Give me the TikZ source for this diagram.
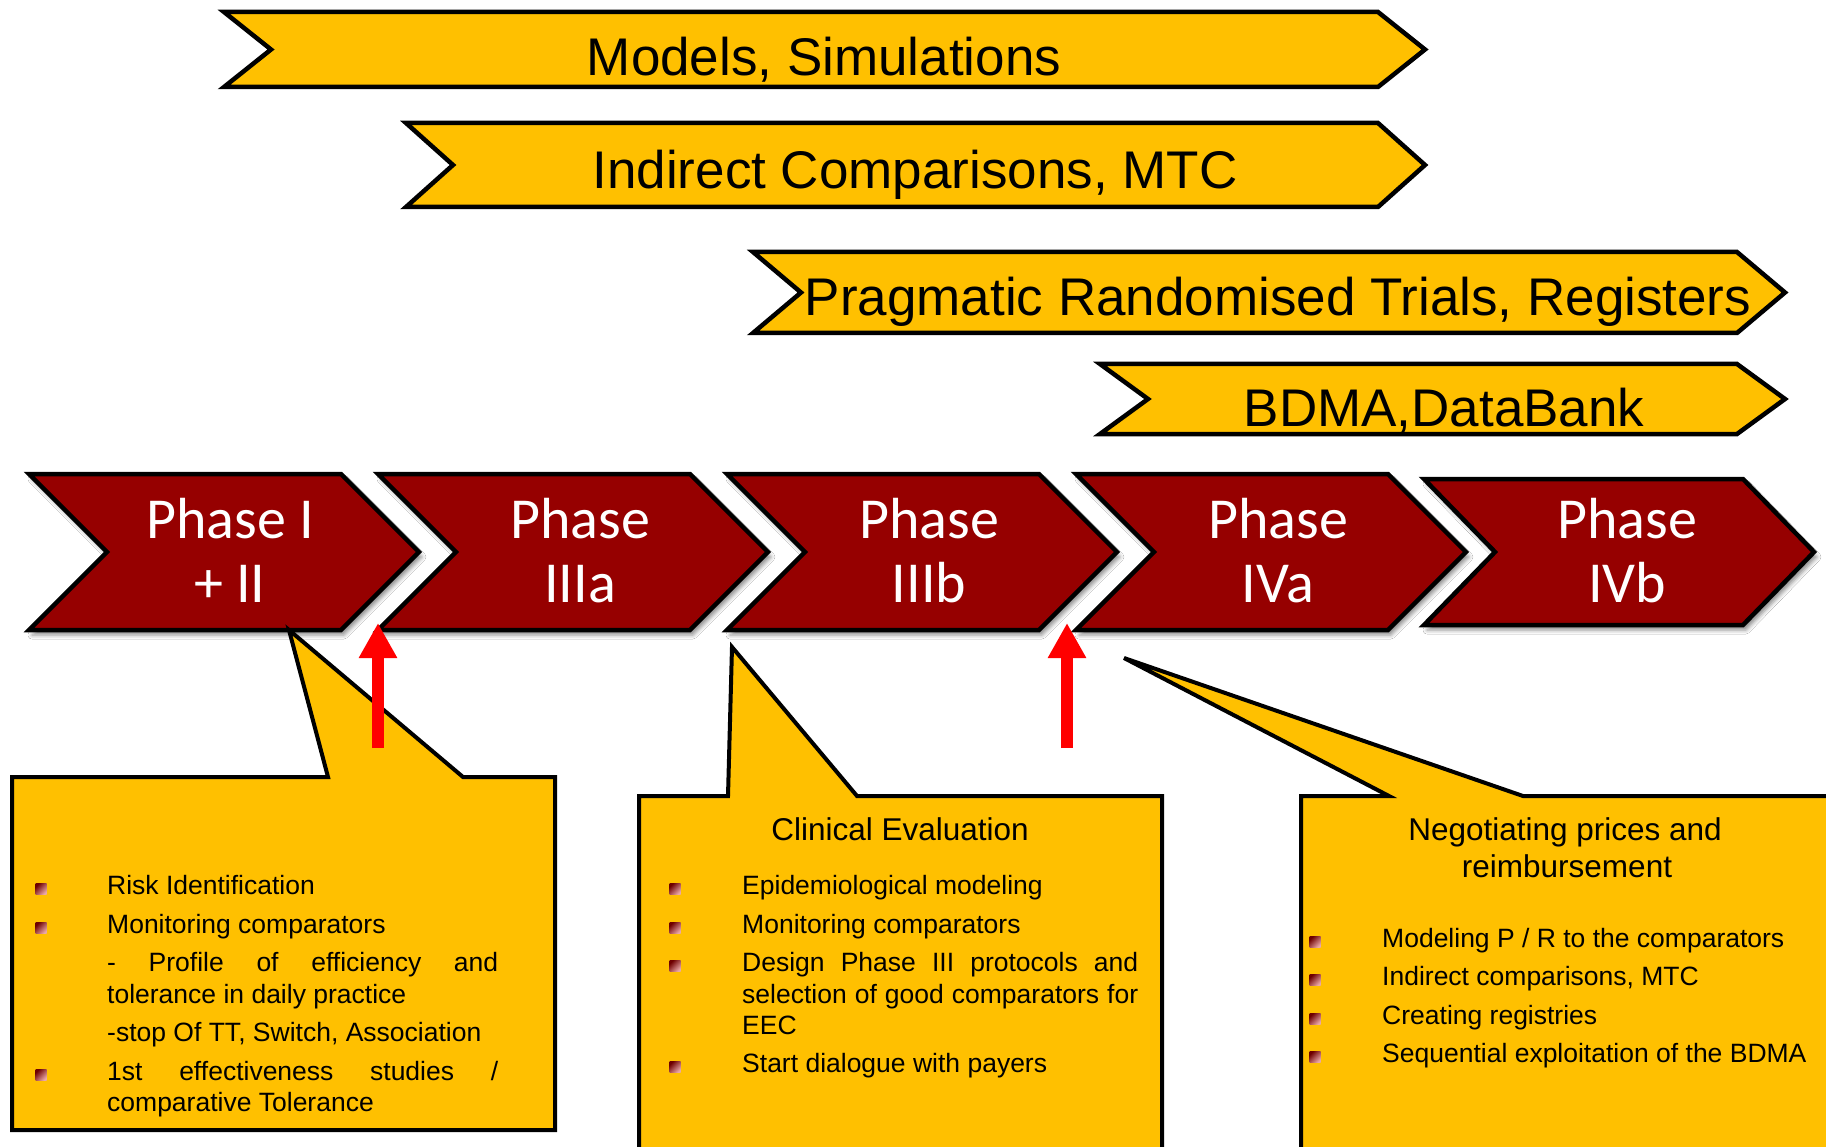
\documentclass[tikz,border=0pt]{standalone}
\usepackage{fontspec}
\setmainfont{Liberation Sans}
\newfontfamily\phasefont{Carlito}
\usetikzlibrary{arrows.meta,shadows.blur}

\definecolor{gold}{HTML}{FFC000}
\definecolor{phasered}{HTML}{960000}
\definecolor{markdark}{HTML}{6E0000}
\definecolor{markmid}{HTML}{A01212}
\definecolor{marklight}{HTML}{EAA8A8}

\tikzset{
  banner/.style={fill=gold, draw=black, line width=4.5pt, line join=miter},
  phasebox/.style={fill=phasered, draw=black, line width=4.5pt, line join=miter,
    blur shadow={shadow xshift=3pt, shadow yshift=-5pt, shadow blur radius=4pt, shadow opacity=45}},
  bannertext/.style={font=\fontsize{53}{60}\selectfont, anchor=base, inner sep=0pt},
  phasetext/.style={text=white, font=\phasefont\fontsize{58}{64}\selectfont, anchor=base, inner sep=0pt},
  callout/.style={fill=gold, draw=black, line width=4pt, line join=miter},
  itemtext/.style={font=\fontsize{26.5}{31}\selectfont, anchor=base west, inner sep=0pt},
  titletext/.style={font=\fontsize{31.5}{37}\selectfont, anchor=base, inner sep=0pt},
  marker/.style={minimum size=11pt, inner sep=0pt, draw=none,
    top color=markdark, middle color=markmid, bottom color=marklight, shading angle=45},
  uparrow/.style={draw=red, line width=12pt, -{Triangle[width=36pt,length=35pt]}},
}

% chevron outline: style, left, top, bottom, end of body, point depth
\newcommand\drawchevron[6]{%
  \path[#1] (#2,#3) -- (#5,#3) -- ({#5+#6},{(#3+#4)/2}) -- (#5,#4) -- (#2,#4)
    -- ({#2+#6},{(#3+#4)/2}) -- cycle;}

\begin{document}
\begin{tikzpicture}[x=1pt,y=-1pt]
\useasboundingbox (0,0) rectangle (1826,1147);
\clip (0,0) rectangle (1826,1147);
\fill[white] (0,0) rectangle (1826,1147);

% ---- method banners ----
\drawchevron{banner}{224}{12}{87}{1378}{47}
\node[bannertext] (models) at (824,76) {Models, Simulations};

\drawchevron{banner}{406}{123}{207}{1378}{47}
\node[bannertext] (indirect) at (915,189) {Indirect Comparisons, MTC};

\drawchevron{banner}{753}{252}{333}{1737}{48}
\node[bannertext] (pragmatic) at (1278,316) {Pragmatic Randomised Trials, Registers};

\drawchevron{banner}{1100}{364}{434}{1737}{48}
\node[bannertext] (bdma) at (1444,427) {BDMA,DataBank};

% ---- phase chevrons ----
\drawchevron{phasebox}{29}{474}{630}{341}{78}
\drawchevron{phasebox}{378}{474}{630}{690}{78}
\drawchevron{phasebox}{727}{474}{630}{1039}{78}
\drawchevron{phasebox}{1076}{474}{630}{1388}{78}
\drawchevron{phasebox}{1424}{479}{625}{1743}{71}

\node[phasetext] (ph1a) at (230,538) {Phase I};
\node[phasetext] (ph1b) at (230,602) {+ II};
\node[phasetext] (ph2a) at (580,538) {Phase};
\node[phasetext] (ph2b) at (580,602) {IIIa};
\node[phasetext] (ph3a) at (929,538) {Phase};
\node[phasetext] (ph3b) at (929,602) {IIIb};
\node[phasetext] (ph4a) at (1278,538) {Phase};
\node[phasetext] (ph4b) at (1278,602) {IVa};
\node[phasetext] (ph5a) at (1627,538) {Phase};
\node[phasetext] (ph5b) at (1627,602) {IVb};

% ---- callouts ----
\path[callout] (12,777) -- (328,777) -- (289,630) -- (463,777) -- (555,777)
  -- (555,1130) -- (12,1130) -- cycle;
\path[callout] (639,796) -- (728,796) -- (732,647) -- (857,796) -- (1162,796)
  -- (1162,1170) -- (639,1170) -- cycle;
\path[callout] (1301,796) -- (1389,796) -- (1124,658) -- (1523,796) -- (1850,796)
  -- (1850,1170) -- (1301,1170) -- cycle;

% ---- milestone arrows ----
\coordinate (m1base) at (378,748);
\coordinate (m1tip) at (378,623);
\coordinate (m2base) at (1067,748);
\coordinate (m2tip) at (1067,623);
\draw[uparrow] (m1base) -- (m1tip);
\draw[uparrow] (m2base) -- (m2tip);

% ---- left callout text ----
\node[marker] (b11) at (41,889) {};
\node[itemtext] (t11) at (107,894) {Risk Identification};
\node[marker] (b12) at (41,928) {};
\node[itemtext] (t12) at (107,933) {Monitoring comparators};
\node[itemtext] (t13) at (107,971) {\makebox[391pt][s]{- Profile of efficiency and}};
\node[itemtext] (t14) at (107,1003) {tolerance in daily practice};
\node[itemtext] (t15) at (107,1041) {-stop Of TT, Switch, Association};
\node[marker] (b13) at (41,1075) {};
\node[itemtext] (t16) at (107,1080) {\makebox[391pt][s]{1st effectiveness studies /}};
\node[itemtext] (t17) at (107,1111) {comparative Tolerance};

% ---- middle callout text ----
\node[titletext] (clin) at (900,840) {Clinical Evaluation};
\node[marker] (b21) at (675,889) {};
\node[itemtext] (t21) at (742,894) {Epidemiological modeling};
\node[marker] (b22) at (675,928) {};
\node[itemtext] (t22) at (742,933) {Monitoring comparators};
\node[marker] (b23) at (675,966) {};
\node[itemtext] (t23) at (742,971) {\makebox[396pt][s]{Design Phase III protocols and}};
\node[itemtext] (t24) at (742,1003) {\makebox[396pt][s]{selection of good comparators for}};
\node[itemtext] (t25) at (742,1034) {EEC};
\node[marker] (b24) at (675,1067) {};
\node[itemtext] (t26) at (742,1072) {Start dialogue with payers};

% ---- right callout text ----
\node[titletext] (nego1) at (1565,840) {Negotiating prices and};
\node[titletext] (nego2) at (1567,877) {reimbursement};
\node[marker] (b31) at (1315,942) {};
\node[itemtext] (t31) at (1382,947) {Modeling P / R to the comparators};
\node[marker] (b32) at (1315,980) {};
\node[itemtext] (t32) at (1382,985) {Indirect comparisons, MTC};
\node[marker] (b33) at (1315,1019) {};
\node[itemtext] (t33) at (1382,1024) {Creating registries};
\node[marker] (b34) at (1315,1057) {};
\node[itemtext] (t34) at (1382,1062) {Sequential exploitation of the BDMA};
\end{tikzpicture}
\end{document}
